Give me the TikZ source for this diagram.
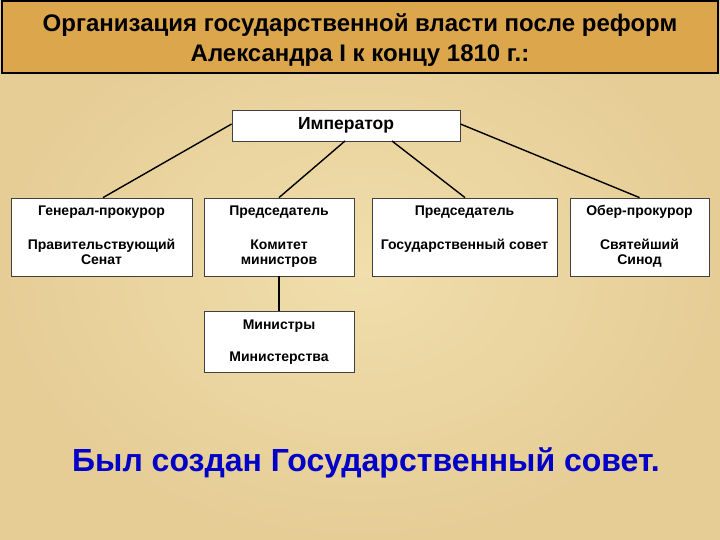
\documentclass[tikz,border=0pt]{standalone}
\usepackage{fontspec}
\setmainfont{Liberation Sans}
\newcommand{\firststrut}{\rule{0pt}{13pt}}
\begin{document}
\begin{tikzpicture}[x=1pt,y=-1pt,
  orgbox/.style={draw=black!75,line width=0.8pt,fill=white,rectangle,inner sep=0pt},
  boxtext/.style={font=\bfseries\fontsize{14}{15}\selectfont,align=center,inner sep=0pt,anchor=north},
  link/.style={draw=black,line width=1.4pt}]
\definecolor{parch}{RGB}{240,222,172}
\definecolor{parchdark}{RGB}{230,205,150}
\definecolor{titlefill}{RGB}{220,166,76}
\definecolor{bluetext}{RGB}{0,0,200}
\useasboundingbox (0,0) rectangle (720,540);
\shade[inner color=parch, outer color=parchdark] (0,0) rectangle (720,540);
% title
\node[draw=black,line width=1.8pt,fill=titlefill,minimum width=716pt,minimum height=72pt,inner sep=0pt] (title) at (360,37) {};
\node[font=\bfseries\fontsize{24}{30}\selectfont,align=center] (titletext) at (360,40) {Организация государственной власти после реформ\\Александра I к концу 1810 г.:};
% boxes
\node[orgbox,minimum width=228pt,minimum height=31pt,font=\bfseries\fontsize{17.5}{18}\selectfont] (emp) at (346,125.5) {Император};
\node[orgbox,minimum width=181pt,minimum height=78pt] (gp) at (101.5,237) {};
\node[orgbox,minimum width=150pt,minimum height=78pt] (kom) at (279,237) {};
\node[orgbox,minimum width=185pt,minimum height=78pt] (gs) at (464.5,237) {};
\node[orgbox,minimum width=139pt,minimum height=78pt] (sin) at (639.5,237) {};
\node[orgbox,minimum width=150pt,minimum height=61pt] (min) at (279,341.5) {};
\node[boxtext] (gpt) at ([yshift=-5pt]gp.north) {\firststrut Генерал-прокурор\\[19pt]Правительствующий\\Сенат};
\node[boxtext] (komt) at ([yshift=-5pt]kom.north) {\firststrut Председатель\\[19pt]Комитет\\министров};
\node[boxtext] (gst) at ([yshift=-5pt]gs.north) {\firststrut Председатель\\[19pt]Государственный совет};
\node[boxtext] (sint) at ([yshift=-5pt]sin.north) {\firststrut Обер-прокурор\\[19pt]Святейший\\Синод};
\node[boxtext] (mint) at ([yshift=-6pt]min.north) {\firststrut Министры\\[17pt]Министерства};
% connectors
\coordinate (e1) at ([yshift=1.5pt]emp.west);
\coordinate (e2) at (345,141);
\coordinate (e3) at (392,141);
\coordinate (e4) at ([yshift=1.5pt]emp.east);
\draw[link] (e1) -- (gp.north -| 103,0);
\draw[link] (e2) -- (kom.north);
\draw[link] (e3) -- (gs.north -| 465,0);
\draw[link] (e4) -- (sin.north);
\draw[link] (kom.south) -- (min.north);
% bottom text
\node[font=\bfseries\fontsize{32}{34}\selectfont,text=bluetext] (note) at (366,463) {Был создан Государственный совет.};
\end{tikzpicture}
\end{document}
